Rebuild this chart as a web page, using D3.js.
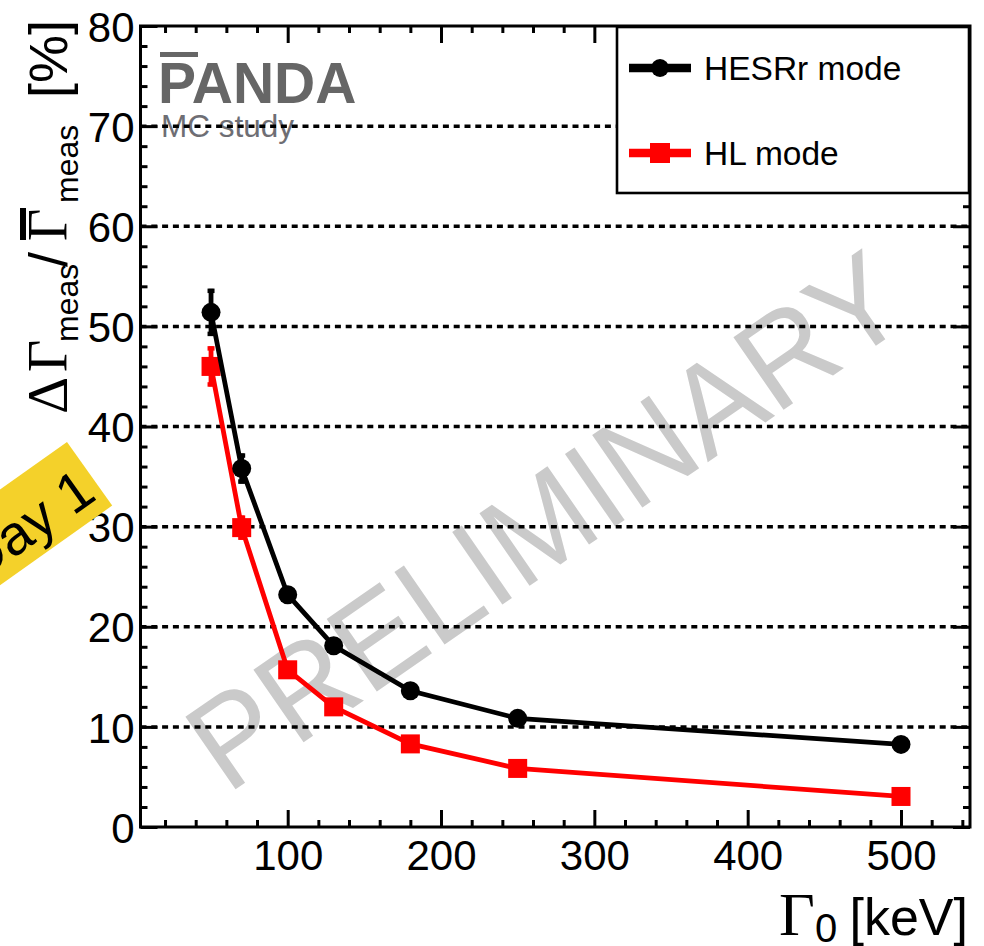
<!DOCTYPE html>
<html>
<head>
<meta charset="utf-8">
<script src="https://cdn.jsdelivr.net/npm/d3@7"></script>
<style>
  html, body { margin: 0; padding: 0; background: #fff; }
  svg { display: block; }
</style>
</head>
<body>
<svg id="chart" width="984" height="946" font-family="Liberation Sans, Arial, Helvetica, sans-serif"></svg>
<script>
// Relative width resolution vs. true width, two running modes
const gamma0 = [50, 70, 100, 130, 180, 250, 500];          // Γ0 [keV]
const hesrrRes = [51.4, 35.8, 23.2, 18.1, 13.6, 10.85, 8.25];
const hesrrErr = [2.35, 1.5, 0.7, 0.5, 0.4, 0.3, 0.3];
const hlRes = [46.0, 29.9, 15.7, 12.0, 8.3, 5.85, 3.05];
const hlErr = [2.0, 1.2, 0.6, 0.4, 0.3, 0.2, 0.2];

const xMajorTicks = [100, 200, 300, 400, 500];
const yMajorTicks = [0, 10, 20, 30, 40, 50, 60, 70, 80];
const gridValues = [10, 20, 30, 40, 50, 60, 70];
const seriesNames = ["HESRr mode", "HL mode"];

const svg = d3.select("#chart");
const L = 140.5, R = 970, T = 26, B = 827;
const sans = "Liberation Sans, Arial, Helvetica, sans-serif";
const serif = "Liberation Serif, Times New Roman, serif";

const x = d3.scaleLinear().domain([4, 545]).range([L, R]);
const y = d3.scaleLinear().domain([0, 80]).range([B, T]);

const xMinor = d3.range(20, 545, 20).filter(v => v % 100 !== 0);
const yMinor = d3.range(0, 81, 2).filter(v => v % 10 !== 0);

// watermark
svg.append("text")
  .attr("transform", "translate(571,557) rotate(-34.7)")
  .attr("text-anchor", "middle")
  .attr("font-size", 128)
  .attr("textLength", 836)
  .attr("lengthAdjust", "spacingAndGlyphs")
  .attr("fill", "#cacaca")
  .text("PRELIMINARY");

// PANDA logo
svg.append("rect").attr("x", 160).attr("y", 52).attr("width", 38).attr("height", 5).attr("fill", "#666");
svg.append("text").attr("x", 158).attr("y", 103)
  .attr("font-size", 57).attr("font-weight", "bold").attr("fill", "#666").text("PANDA");
svg.append("text").attr("x", 161).attr("y", 137)
  .attr("font-size", 31.5).attr("fill", "#6e6e74").text("MC study");

// horizontal dotted grid
svg.append("g").selectAll("line").data(gridValues).join("line")
  .attr("x1", L).attr("x2", R)
  .attr("y1", d => y(d)).attr("y2", d => y(d))
  .attr("stroke", "#000").attr("stroke-width", 3.5)
  .attr("stroke-dasharray", "6 4.8");

// axes: inward major and minor ticks on all four sides
function styleAxis(g) {
  g.select(".domain").remove();
  g.selectAll(".tick line").attr("stroke", "#000").attr("stroke-width", 3);
  g.selectAll("text").attr("font-size", 42).attr("fill", "#000").attr("font-family", sans);
}
const gx = svg.append("g").attr("transform", `translate(0,${B})`)
  .call(d3.axisBottom(x).tickValues(xMajorTicks).tickSizeInner(-17).tickSizeOuter(0).tickPadding(13).tickFormat(d3.format("d")));
styleAxis(gx);
svg.append("g").attr("transform", `translate(0,${B})`)
  .call(d3.axisBottom(x).tickValues(xMinor).tickSizeInner(-7).tickSizeOuter(0).tickFormat(""))
  .call(styleAxis);
svg.append("g").attr("transform", `translate(0,${T})`)
  .call(d3.axisTop(x).tickValues(xMajorTicks).tickSizeInner(-17).tickSizeOuter(0).tickFormat(""))
  .call(styleAxis);
svg.append("g").attr("transform", `translate(0,${T})`)
  .call(d3.axisTop(x).tickValues(xMinor).tickSizeInner(-7).tickSizeOuter(0).tickFormat(""))
  .call(styleAxis);

const gy = svg.append("g").attr("transform", `translate(${L},0)`)
  .call(d3.axisLeft(y).tickValues(yMajorTicks).tickSizeInner(-17).tickSizeOuter(0).tickPadding(6).tickFormat(d3.format("d")));
styleAxis(gy);
gy.selectAll("text").attr("dy", "0.36em");
svg.append("g").attr("transform", `translate(${L},0)`)
  .call(d3.axisLeft(y).tickValues(yMinor).tickSizeInner(-7).tickSizeOuter(0).tickFormat(""))
  .call(styleAxis);
svg.append("g").attr("transform", `translate(${R},0)`)
  .call(d3.axisRight(y).tickValues(yMajorTicks).tickSizeInner(-17).tickSizeOuter(0).tickFormat(""))
  .call(styleAxis);
svg.append("g").attr("transform", `translate(${R},0)`)
  .call(d3.axisRight(y).tickValues(yMinor).tickSizeInner(-7).tickSizeOuter(0).tickFormat(""))
  .call(styleAxis);

// frame
svg.append("rect").attr("x", L).attr("y", T).attr("width", R - L).attr("height", B - T)
  .attr("fill", "none").attr("stroke", "#000").attr("stroke-width", 3);

// series
const series = [
  { name: seriesNames[0], vals: hesrrRes, errs: hesrrErr, color: "#000", marker: "circle" },
  { name: seriesNames[1], vals: hlRes, errs: hlErr, color: "#ff0000", marker: "square" }
];
const line = d3.line().x(d => x(d.g)).y(d => y(d.v));

series.slice().reverse().forEach(s => {
  const pts = gamma0.map((g, i) => ({ g, v: s.vals[i], e: s.errs[i] }));
  const g = svg.append("g");
  g.append("path").datum(pts).attr("d", line)
    .attr("fill", "none").attr("stroke", s.color).attr("stroke-width", 4.8);
  // error bars with short end caps
  g.selectAll("line.err").data(pts).join("line").attr("class", "err")
    .attr("x1", d => x(d.g)).attr("x2", d => x(d.g))
    .attr("y1", d => y(d.v - d.e)).attr("y2", d => y(d.v + d.e))
    .attr("stroke", s.color).attr("stroke-width", 4.8);
  ["lo", "hi"].forEach(k => {
    g.selectAll("line.cap" + k).data(pts).join("line").attr("class", "cap" + k)
      .attr("x1", d => x(d.g) - 3.5).attr("x2", d => x(d.g) + 3.5)
      .attr("y1", d => y(k === "lo" ? d.v - d.e : d.v + d.e) + (k === "lo" ? -2 : 2))
      .attr("y2", d => y(k === "lo" ? d.v - d.e : d.v + d.e) + (k === "lo" ? -2 : 2))
      .attr("stroke", s.color).attr("stroke-width", 4.5);
  });
  if (s.marker === "circle") {
    g.selectAll("circle").data(pts).join("circle")
      .attr("cx", d => x(d.g)).attr("cy", d => y(d.v)).attr("r", 9.5).attr("fill", s.color);
  } else {
    g.selectAll("rect").data(pts).join("rect")
      .attr("x", d => x(d.g) - 9.5).attr("y", d => y(d.v) - 9.5)
      .attr("width", 19).attr("height", 19).attr("fill", s.color);
  }
});

// legend
const leg = svg.append("g");
leg.append("rect").attr("x", 617).attr("y", 27).attr("width", 352).attr("height", 166)
  .attr("fill", "#fff").attr("stroke", "#000").attr("stroke-width", 2.6);
const legY = [68, 153];
series.forEach((s, i) => {
  leg.append("line").attr("x1", 629).attr("x2", 691).attr("y1", legY[i]).attr("y2", legY[i])
    .attr("stroke", s.color).attr("stroke-width", 8.5);
  if (s.marker === "circle") {
    leg.append("circle").attr("cx", 660).attr("cy", legY[i]).attr("r", 9).attr("fill", s.color);
  } else {
    leg.append("rect").attr("x", 650).attr("y", legY[i] - 10).attr("width", 20).attr("height", 20).attr("fill", s.color);
  }
  leg.append("text").attr("x", 704).attr("y", legY[i] + 12)
    .attr("font-size", 33.5).attr("fill", "#000").text(s.name);
});

// x axis title: Γ0 [keV]
svg.append("text").attr("x", 779).attr("y", 935).attr("font-family", serif)
  .attr("font-size", 62).text("Γ");
svg.append("text").attr("x", 815).attr("y", 942).attr("font-size", 40).text("0");
svg.append("text").attr("x", 968).attr("y", 935).attr("text-anchor", "end")
  .attr("font-size", 52).text("[keV]");

// y axis title: ΔΓmeas / Γ̄meas [%]
const yt = svg.append("g").attr("transform", "translate(67,413) rotate(-90)");
yt.append("text").attr("x", -1).attr("y", 0).attr("font-family", serif).attr("font-size", 58).text("Δ");
yt.append("text").attr("x", 41).attr("y", 0).attr("font-family", serif).attr("font-size", 56).text("Γ");
yt.append("text").attr("x", 71).attr("y", 11).attr("font-size", 32).text("meas");
yt.append("text").attr("x", 146).attr("y", 0).attr("font-size", 54).text("/");
yt.append("text").attr("x", 172).attr("y", 0).attr("font-family", serif).attr("font-size", 56).text("Γ");
yt.append("rect").attr("x", 173).attr("y", -47).attr("width", 32).attr("height", 6).attr("fill", "#000");
yt.append("text").attr("x", 210).attr("y", 11).attr("font-size", 32).text("meas");
yt.append("text").attr("x", 315).attr("y", 0).attr("font-size", 54).text("[%]");

// corner sticker
const st = svg.append("g").attr("transform", "translate(67,442) rotate(-35.4)");
st.append("rect").attr("x", -260).attr("y", 0).attr("width", 260).attr("height", 78).attr("fill", "#f4d12a");
st.append("text").attr("x", -7).attr("y", 64).attr("text-anchor", "end")
  .attr("font-size", 56).attr("fill", "#000").text("Day 1");
</script>
</body>
</html>
